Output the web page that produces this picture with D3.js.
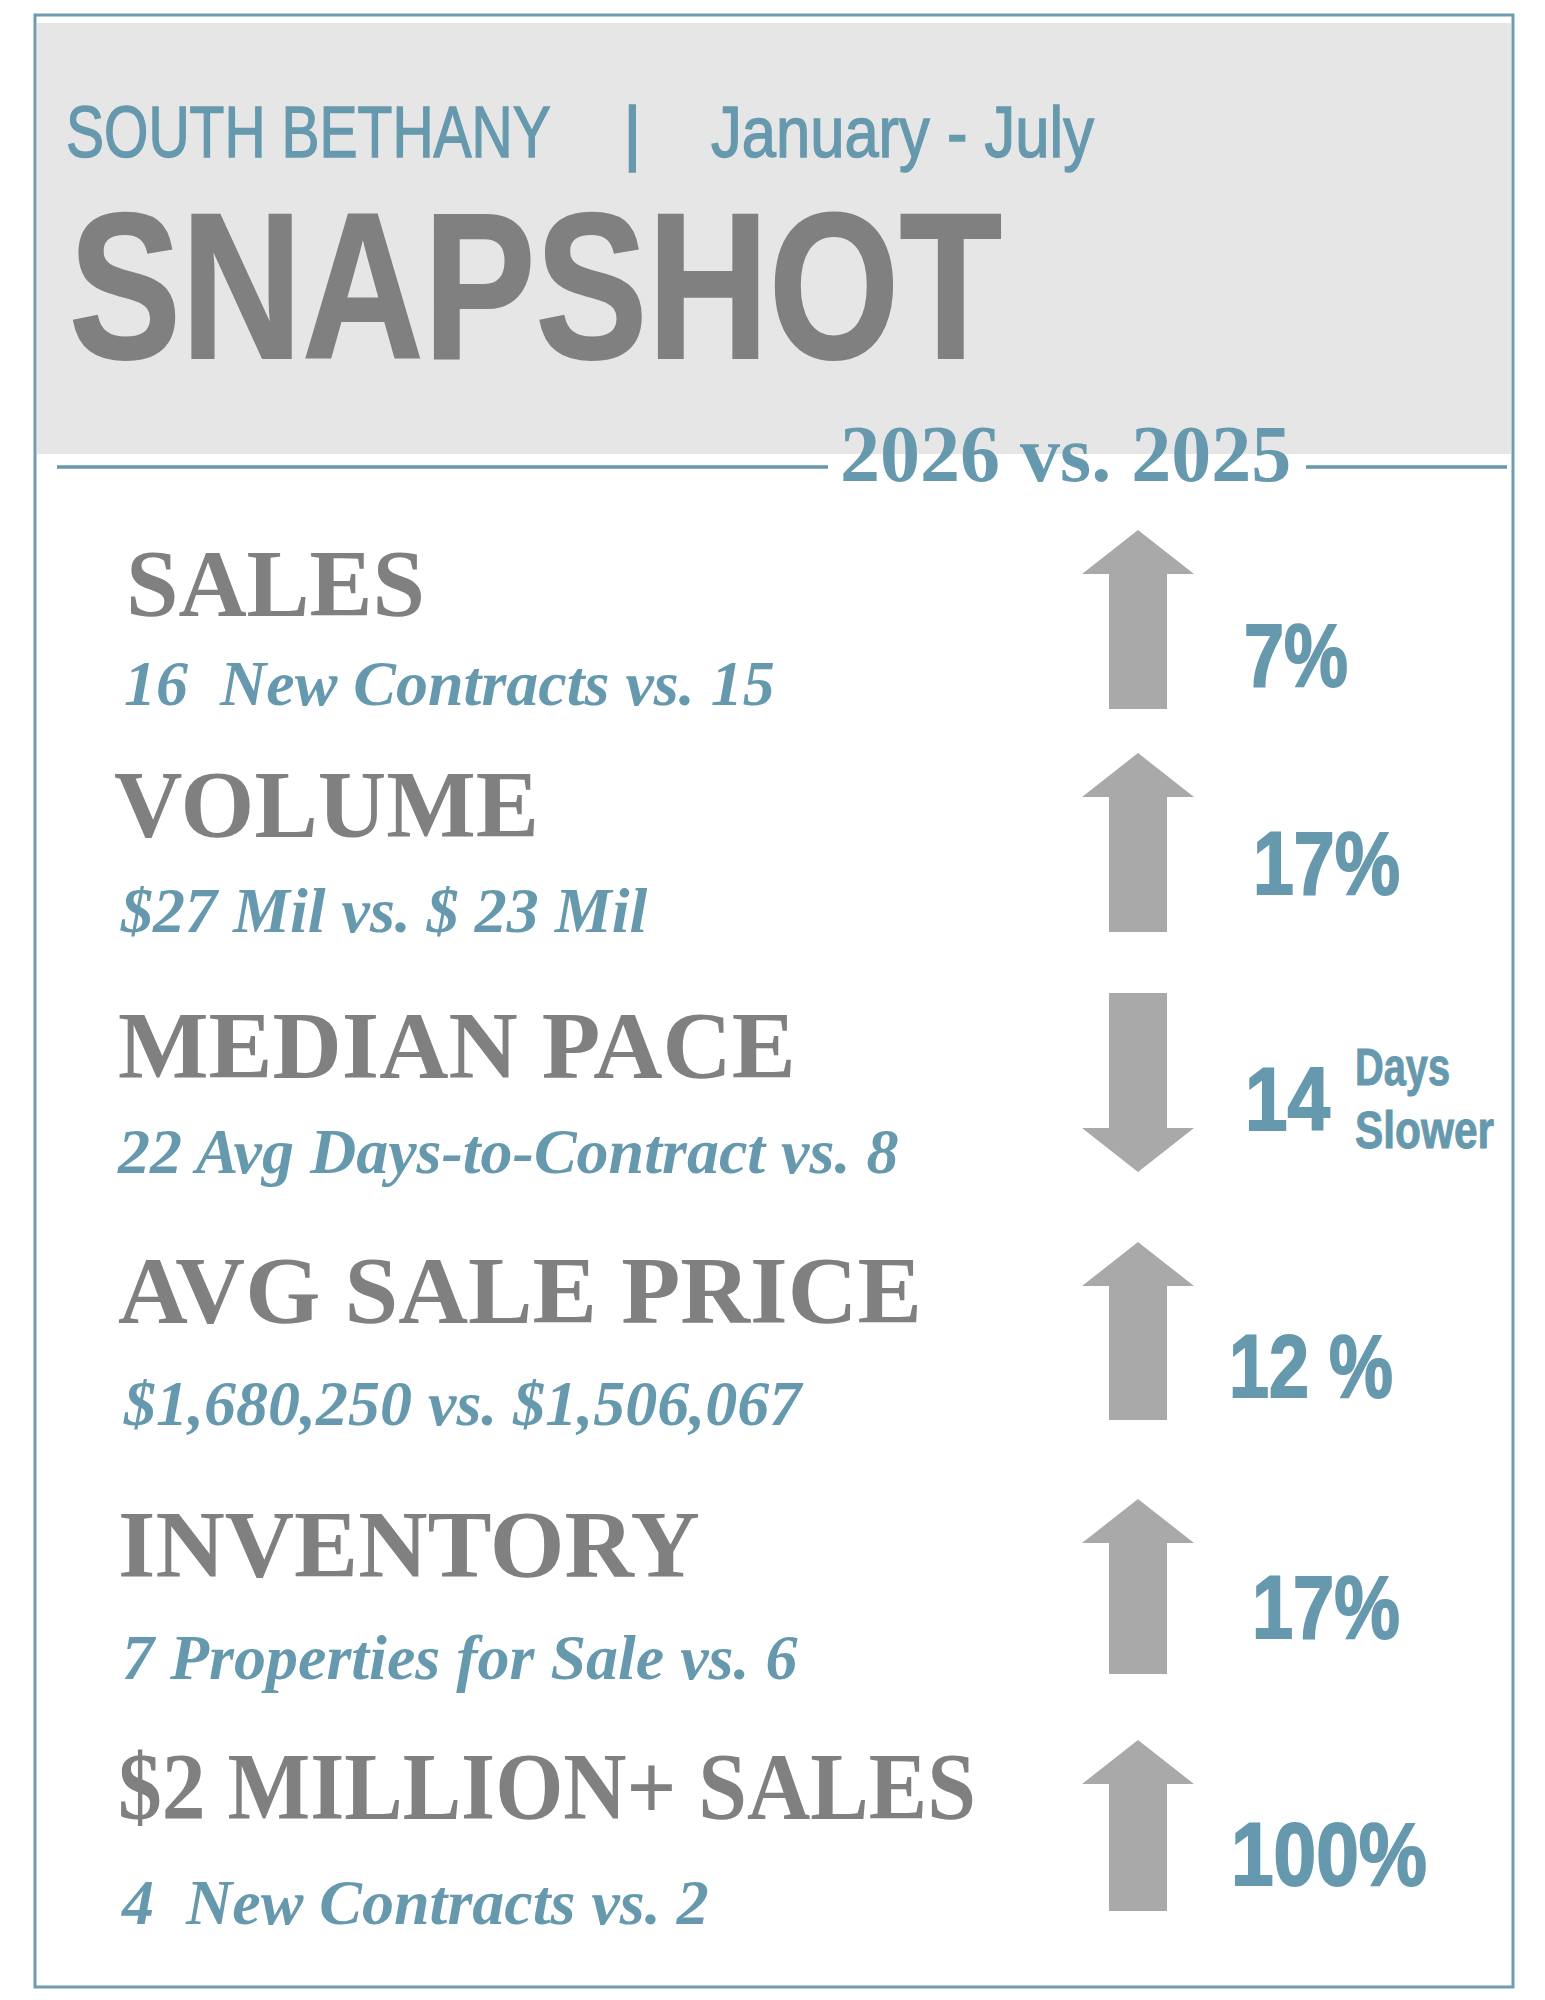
<!DOCTYPE html>
<html>
<head>
<meta charset="utf-8">
<script src="https://cdn.jsdelivr.net/npm/d3@7"></script>
<style>
  html, body { margin: 0; padding: 0; background: #fff; }
  svg { display: block; }
  text { white-space: pre; }
</style>
</head>
<body>
<svg id="canvas" width="1545" height="2000"></svg>
<script>
// header texts
var place = "SOUTH BETHANY";
var period = "January - July";
var title = "SNAPSHOT";
var comparison = "2026 vs. 2025";

// one row per metric
var metrics = ["SALES", "VOLUME", "MEDIAN PACE", "AVG SALE PRICE", "INVENTORY", "$2 MILLION+ SALES"];
var details = [
	"16  New Contracts vs. 15",
	"$27 Mil vs. $ 23 Mil",
	"22 Avg Days-to-Contract vs. 8",
	"$1,680,250 vs. $1,506,067",
	"7 Properties for Sale vs. 6",
	"4  New Contracts vs. 2"
];
var directions = ["up", "up", "down", "up", "up", "up"];
var changes = ["7%", "17%", "14", "12 %", "17%", "100%"];
var changeNotes = [[], [], ["Days", "Slower"], [], [], []];

// layout (measured on the page)
var rowLayout = [
	{label: 616, labelX: 126, labelW: 299, detail: 705, detailX: 124, top: 530, bottom: 709, change: 686, changeX: 1244, changeW: 104},
	{label: 837, labelX: 114, labelW: 425, detail: 932, detailX: 121, top: 753, bottom: 932, change: 894, changeX: 1253, changeW: 147},
	{label: 1078, labelX: 118, labelW: 678, detail: 1173, detailX: 118, top: 993, bottom: 1172, change: 1130, changeX: 1245, changeW: 85},
	{label: 1323, labelX: 118, labelW: 804, detail: 1425, detailX: 124, top: 1242, bottom: 1420, change: 1397, changeX: 1229, changeW: 164},
	{label: 1577, labelX: 118, labelW: 582, detail: 1679, detailX: 122, top: 1499, bottom: 1674, change: 1638, changeX: 1252, changeW: 148},
	{label: 1819, labelX: 118, labelW: 858, detail: 1924, detailX: 122, top: 1740, bottom: 1911, change: 1885, changeX: 1231, changeW: 196}
];
var noteLayout = [{dx: 110, dy: -45, w: 95}, {dx: 110, dy: 18, w: 139}];

var blue = "#6699ad";
var grey = "#808080";
var arrowGrey = "#a9a9a9";
var sans = "'Liberation Sans', Arial, sans-serif";
var serif = "'Liberation Serif', 'Times New Roman', serif";

var svg = d3.select("#canvas");

// squeeze a text placed at (x, y) so that it is w wide
function fit(sel, x, y, w){
	sel.each(function(){
		var t = d3.select(this);
		var n = this.getComputedTextLength();
		var x0 = typeof x == "function" ? x.apply(this, arguments) : x;
		var y0 = typeof y == "function" ? y.apply(this, arguments) : y;
		var w0 = typeof w == "function" ? w.apply(this, arguments) : w;
		t.attr("x", 0).attr("y", 0)
			.attr("transform", "translate(" + x0 + "," + y0 + ") scale(" + (w0 / n) + ",1)");
	});
}

// frame and header panel
svg.append("rect")
	.attr("x", 35).attr("y", 15)
	.attr("width", 1478).attr("height", 1972)
	.attr("fill", "none")
	.attr("stroke", "#6f9db0")
	.attr("stroke-width", 3);

svg.append("rect")
	.attr("x", 37).attr("y", 23)
	.attr("width", 1474).attr("height", 431)
	.attr("fill", "#e6e6e6");

svg.append("text")
	.attr("font-family", sans)
	.attr("font-size", 72)
	.attr("fill", blue)
	.attr("stroke", blue).attr("stroke-width", 1.4)
	.text(place)
	.call(fit, 66, 157, 485);

svg.append("text")
	.attr("x", 623).attr("y", 157)
	.attr("font-family", sans)
	.attr("font-size", 72)
	.attr("fill", blue)
	.attr("stroke", blue).attr("stroke-width", 1.4)
	.text("|");

svg.append("text")
	.attr("font-family", sans)
	.attr("font-size", 72)
	.attr("fill", blue)
	.attr("stroke", blue).attr("stroke-width", 1.4)
	.text(period)
	.call(fit, 711, 157, 383);

svg.append("text")
	.attr("font-family", sans)
	.attr("font-weight", "bold")
	.attr("font-size", 207)
	.attr("fill", grey)
	.attr("stroke", grey).attr("stroke-width", 2)
	.text(title)
	.call(fit, 69, 358, 933);

// rule with the comparison in its gap
svg.selectAll("line.rule")
	.data([[57, 828], [1306, 1507]])
	.enter()
	.append("line")
		.attr("class", "rule")
		.attr("x1", function(d){ return d[0]; })
		.attr("x2", function(d){ return d[1]; })
		.attr("y1", 467).attr("y2", 467)
		.attr("stroke", blue)
		.attr("stroke-width", 3.5);

svg.append("text")
	.attr("x", 840).attr("y", 481)
	.attr("font-family", serif)
	.attr("font-weight", "bold")
	.attr("font-size", 80)
	.attr("fill", blue)
	.text(comparison);

// rows
var rowScale = d3.scaleOrdinal().domain(metrics).range(rowLayout);
var arrowX = d3.scaleOrdinal().domain(metrics).range(metrics.map(function(){ return 1138; }));

var rows = metrics.map(function(m, i){
	return {metric: m, detail: details[i], dir: directions[i], change: changes[i], note: changeNotes[i]};
});

var g = svg.selectAll("g.row")
	.data(rows)
	.enter()
	.append("g")
		.attr("class", "row");

g.append("text")
	.attr("font-family", serif)
	.attr("font-weight", "bold")
	.attr("font-size", 95)
	.attr("fill", grey)
	.text(function(d){ return d.metric; })
	.call(fit,
		function(d){ return rowScale(d.metric).labelX; },
		function(d){ return rowScale(d.metric).label; },
		function(d){ return rowScale(d.metric).labelW; });

g.append("text")
	.attr("x", function(d){ return rowScale(d.metric).detailX; })
	.attr("y", function(d){ return rowScale(d.metric).detail; })
	.attr("font-family", serif)
	.attr("font-weight", "bold")
	.attr("font-style", "italic")
	.attr("font-size", 64)
	.attr("fill", blue)
	.text(function(d){ return d.detail; });

// block arrows
var arrowLine = d3.line();
var headHalf = 56, shaftHalf = 29, headLen = 44;

g.append("path")
	.attr("fill", arrowGrey)
	.attr("d", function(d){
		var r = rowScale(d.metric);
		var cx = arrowX(d.metric);
		var pts;
		if(d.dir == "up")
		{
			pts = [
				[cx, r.top], [cx + headHalf, r.top + headLen], [cx + shaftHalf, r.top + headLen],
				[cx + shaftHalf, r.bottom], [cx - shaftHalf, r.bottom], [cx - shaftHalf, r.top + headLen],
				[cx - headHalf, r.top + headLen]
			];
		}
		else
		{
			pts = [
				[cx - shaftHalf, r.top], [cx + shaftHalf, r.top], [cx + shaftHalf, r.bottom - headLen],
				[cx + headHalf, r.bottom - headLen], [cx, r.bottom], [cx - headHalf, r.bottom - headLen],
				[cx - shaftHalf, r.bottom - headLen]
			];
		}
		return arrowLine(pts) + "Z";
	});

g.append("text")
	.attr("font-family", sans)
	.attr("font-weight", "bold")
	.attr("font-size", 89)
	.attr("fill", blue)
	.attr("stroke", blue).attr("stroke-width", 2)
	.text(function(d){ return d.change; })
	.call(fit,
		function(d){ return rowScale(d.metric).changeX; },
		function(d){ return rowScale(d.metric).change; },
		function(d){ return rowScale(d.metric).changeW; });

g.selectAll("text.note")
	.data(function(d){
		return d.note.map(function(n, k){ return {text: n, k: k, r: rowScale(d.metric)}; });
	})
	.enter()
	.append("text")
		.attr("class", "note")
		.attr("font-family", sans)
		.attr("font-weight", "bold")
		.attr("font-size", 51)
		.attr("fill", blue)
		.attr("stroke", blue).attr("stroke-width", 1)
		.text(function(d){ return d.text; })
		.call(fit,
			function(d){ return d.r.changeX + noteLayout[d.k].dx; },
			function(d){ return d.r.change + noteLayout[d.k].dy; },
			function(d){ return noteLayout[d.k].w; });
</script>
</body>
</html>
